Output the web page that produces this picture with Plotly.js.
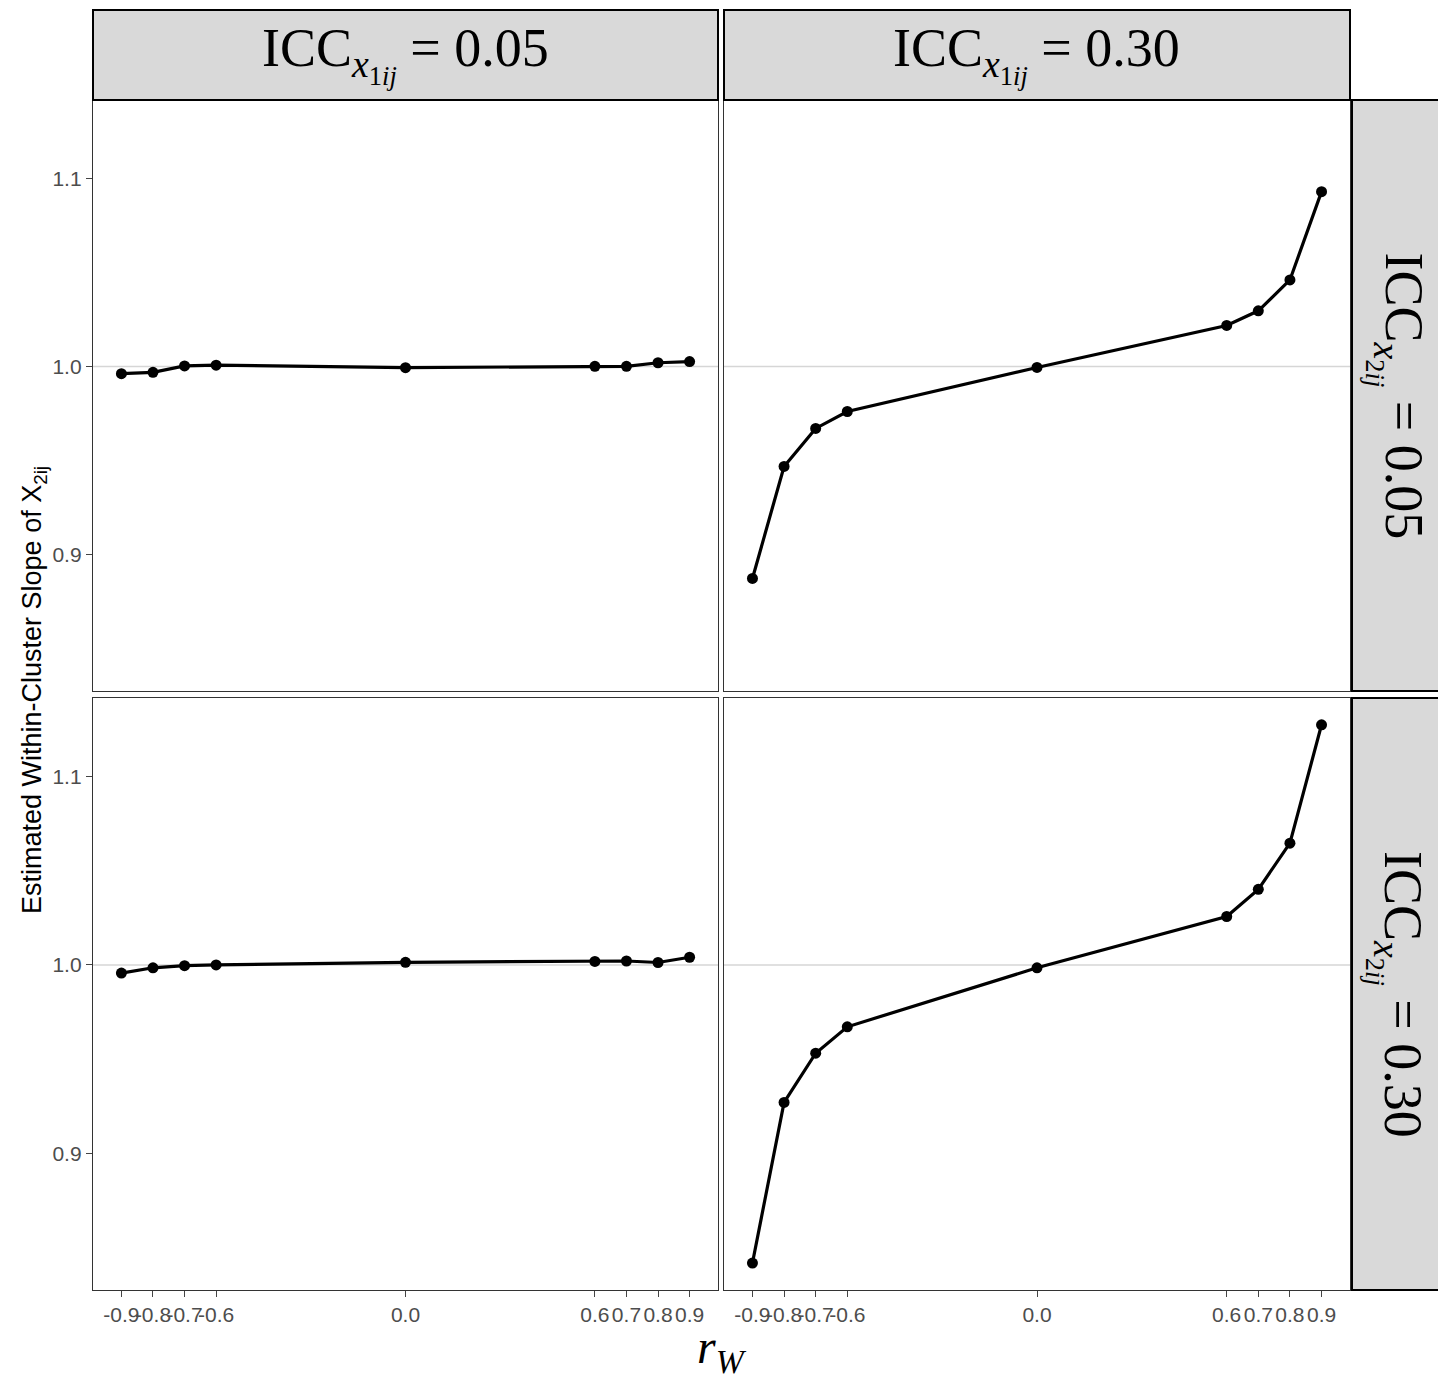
<!DOCTYPE html>
<html>
<head>
<meta charset="utf-8">
<script src="https://cdn.plot.ly/plotly-3.0.1.min.js"></script>
<style>html,body{margin:0;padding:0;background:#fff;}#chart{width:1438px;height:1381px;}</style>
</head>
<body>
<div id="chart"></div>
<script>
// ---- data ----
const rW = [-0.9, -0.8, -0.7, -0.6, 0.0, 0.6, 0.7, 0.8, 0.9];
const xTickVals = [-0.9, -0.8, -0.7, -0.6, 0.0, 0.6, 0.7, 0.8, 0.9];
const xTickText = ["-0.9", "-0.8", "-0.7", "-0.6", "0.0", "0.6", "0.7", "0.8", "0.9"];
const yTickVals = [0.9, 1.0, 1.1];
const yTickText = ["0.9", "1.0", "1.1"];
// panels: ICC x1 (columns) by ICC x2 (rows)
const slope_x1_005_x2_005 = [0.9962, 0.9969, 1.0003, 1.0007, 0.9994, 1.0001, 1.0001, 1.0020, 1.0026];
const slope_x1_030_x2_005 = [0.8874, 0.9469, 0.9671, 0.9761, 0.9995, 1.0218, 1.0296, 1.0460, 1.0929];
const slope_x1_005_x2_030 = [0.9957, 0.9985, 0.9996, 1.0000, 1.0014, 1.0019, 1.0021, 1.0013, 1.0041];
const slope_x1_030_x2_030 = [0.8419, 0.9271, 0.9532, 0.9672, 0.9985, 1.0257, 1.0401, 1.0646, 1.1274];
const colLabels = ["ICC<sub><i>x</i><sub>1<i>ij</i></sub></sub> = 0.05", "ICC<sub><i>x</i><sub>1<i>ij</i></sub></sub> = 0.30"];
const rowLabels = ["ICC<sub><i>x</i><sub>2<i>ij</i></sub></sub> = 0.05", "ICC<sub><i>x</i><sub>2<i>ij</i></sub></sub> = 0.30"];
const refLine = 1.0;

// ---- layout geometry ----
const W = 1438, H = 1381;
const px = v => v / W;
const py = v => 1 - v / H;
const colDom = [[px(93), px(718)], [px(724), px(1350)]];
const rowDom = [[py(691), py(100)], [py(1290), py(698)]];
const yRange = [0.8276, 1.1416];
const xRange = [-0.99, 0.99];

const series = [
  [slope_x1_005_x2_005, 'x', 'y'],
  [slope_x1_030_x2_005, 'x2', 'y2'],
  [slope_x1_005_x2_030, 'x3', 'y3'],
  [slope_x1_030_x2_030, 'x4', 'y4']
];
const traces = series.map(s => ({
  x: rW, y: s[0], xaxis: s[1], yaxis: s[2],
  type: 'scatter', mode: 'lines+markers',
  line: {color: '#000', width: 3.2},
  marker: {color: '#000', size: 11},
  showlegend: false, hoverinfo: 'x+y'
}));

const tickFont = {family: 'Liberation Sans, Arial, sans-serif', size: 21, color: '#4D4D4D'};
function xa(dom, anchor, show) {
  return {domain: dom, anchor: anchor, range: xRange, showgrid: false, zeroline: false,
    showline: true, mirror: true, linecolor: '#333333', linewidth: 1.2,
    tickmode: 'array', tickvals: xTickVals, ticktext: xTickText, tickangle: 0,
    ticks: show ? 'outside' : '', ticklen: 6, tickcolor: '#444444', tickwidth: 1,
    showticklabels: show, tickfont: tickFont, fixedrange: true, automargin: false};
}
function ya(dom, anchor, show) {
  return {domain: dom, anchor: anchor, range: yRange, showgrid: false, zeroline: false,
    showline: true, mirror: true, linecolor: '#333333', linewidth: 1.2,
    tickmode: 'array', tickvals: yTickVals, ticktext: yTickText,
    ticks: show ? 'outside' : '', ticklen: 6, tickcolor: '#444444', tickwidth: 1,
    showticklabels: show, tickfont: tickFont, fixedrange: true, automargin: false};
}

const shapes = [];
// reference line at 1.0 in each panel
['y', 'y2', 'y3', 'y4'].forEach((yy, i) => {
  const xx = ['x', 'x2', 'x3', 'x4'][i];
  shapes.push({type: 'line', xref: xx + ' domain', yref: yy, x0: 0, x1: 1, y0: refLine, y1: refLine,
    line: {color: '#D6D6D6', width: 1.6}, layer: 'below'});
});
// top strips
colDom.forEach(d => shapes.push({type: 'rect', xref: 'paper', yref: 'paper',
  x0: d[0], x1: d[1], y0: py(100), y1: py(10), fillcolor: '#D9D9D9', line: {color: '#000', width: 2}, layer: 'above'}));
// right strips
rowDom.forEach(d => shapes.push({type: 'rect', xref: 'paper', yref: 'paper',
  x0: px(1352), x1: px(1445), y0: d[0], y1: d[1], fillcolor: '#D9D9D9', line: {color: '#000', width: 2}, layer: 'above'}));

const stripFont = {family: 'Liberation Serif, DejaVu Serif, serif', size: 54, color: '#000'};
const annotations = [];
colLabels.forEach((t, i) => annotations.push({text: t, xref: 'paper', yref: 'paper',
  x: (colDom[i][0] + colDom[i][1]) / 2, y: py(54), xanchor: 'center', yanchor: 'middle',
  showarrow: false, font: stripFont}));
rowLabels.forEach((t, i) => annotations.push({text: t, xref: 'paper', yref: 'paper',
  x: px(1397), y: (rowDom[i][0] + rowDom[i][1]) / 2, xanchor: 'center', yanchor: 'middle',
  textangle: 90, showarrow: false, font: stripFont}));
// axis titles
annotations.push({text: 'Estimated Within-Cluster Slope of X<sub>2ij</sub>', xref: 'paper', yref: 'paper',
  x: px(34), y: py(690), xanchor: 'center', yanchor: 'middle', textangle: -90, showarrow: false,
  font: {family: 'Liberation Sans, Arial, sans-serif', size: 27, color: '#000'}});
annotations.push({text: '<i>r</i><sub><i>W</i></sub>', xref: 'paper', yref: 'paper',
  x: px(722), y: py(1350), xanchor: 'center', yanchor: 'middle', showarrow: false,
  font: {family: 'Liberation Serif, DejaVu Serif, serif', size: 48, color: '#000'}});

const layout = {
  width: W, height: H,
  margin: {l: 0, r: 0, t: 0, b: 0},
  paper_bgcolor: '#fff', plot_bgcolor: '#fff',
  showlegend: false,
  xaxis: xa(colDom[0], 'y', false), yaxis: ya(rowDom[0], 'x', true),
  xaxis2: xa(colDom[1], 'y2', false), yaxis2: ya(rowDom[0], 'x2', false),
  xaxis3: xa(colDom[0], 'y3', true), yaxis3: ya(rowDom[1], 'x3', true),
  xaxis4: xa(colDom[1], 'y4', true), yaxis4: ya(rowDom[1], 'x4', false),
  shapes: shapes, annotations: annotations
};
Plotly.newPlot('chart', traces, layout, {displayModeBar: false, staticPlot: true});
</script>
</body>
</html>
